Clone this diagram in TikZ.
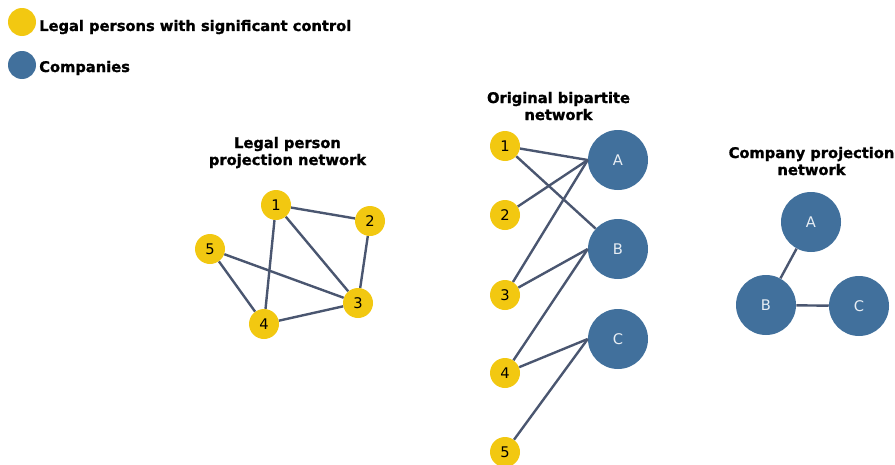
\documentclass[tikz,border=0pt]{standalone}
\usepackage{fontspec}
\setmainfont[BoldFeatures={FakeBold=1.2}]{DejaVu Sans}
\definecolor{ylw}{HTML}{F2C811}
\definecolor{blu}{HTML}{41709C}
\definecolor{edg}{HTML}{4A5670}
\definecolor{ltxt}{HTML}{E8EEF4}
\tikzset{
  pers/.style={circle,fill=ylw,draw=none,minimum size=22.5pt,inner sep=0pt,font=\fontsize{11}{13}\selectfont,text=black},
  comp/.style={circle,fill=blu,draw=none,minimum size=45pt,inner sep=0pt,font=\fontsize{11}{13}\selectfont,text=ltxt},
  legdot/.style={circle,draw=none,minimum size=21pt,inner sep=0pt},
  legtxt/.style={anchor=base west,inner sep=0pt,font=\fontsize{11}{13}\bfseries},
  ttl/.style={anchor=base,align=center,inner sep=0pt,font=\fontsize{11}{12.75}\selectfont\bfseries},
  lnk/.style={draw=edg,line width=1.8pt}
}
\begin{document}
\begin{tikzpicture}[x=0.75pt,y=-0.75pt]
\useasboundingbox (0,0) rectangle (895,464);
\clip (0,0) rectangle (895,464);
% legend
\node[legdot,fill=ylw] (ly) at (22,22) {};
\node[legtxt] (lyt) at (39,31) {Legal persons with significant control};
\node[legdot,fill=blu] (lb) at (22,65) {};
\node[legtxt] (lbt) at (39,72) {Companies};
% titles
\node[ttl] (t1) at (287.5,165) {Legal person\\projection network};
\node[ttl] (t2) at (558.5,120) {Original bipartite\\network};
\node[ttl] (t3) at (811.5,175) {Company projection\\network};
% left panel
\node[pers] (p1) at (276,205) {1};
\node[pers] (p2) at (370,221) {2};
\node[pers] (p3) at (358,303) {3};
\node[pers] (p4) at (264,324) {4};
\node[pers] (p5) at (210,249) {5};
\draw[lnk] (p1) -- (p2);
\draw[lnk] (p1) -- (p3);
\draw[lnk] (p1) -- (p4);
\draw[lnk] (p2) -- (p3);
\draw[lnk] (p3) -- (p4);
\draw[lnk] (p5) -- (p3);
\draw[lnk] (p5) -- (p4);
% bipartite
\node[pers] (b1) at (505,146) {1};
\node[pers] (b2) at (505,215) {2};
\node[pers] (b3) at (505,295) {3};
\node[pers] (b4) at (505,373) {4};
\node[pers] (b5) at (505,452) {5};
\node[comp] (bA) at (618,160) {A};
\node[comp] (bB) at (618,249) {B};
\node[comp] (bC) at (618,339) {C};
\draw[lnk] (b1) -- (bA.west);
\draw[lnk] (b1) -- (bB);
\draw[lnk] (b2) -- (bA.west);
\draw[lnk] (b3) -- (bA.west);
\draw[lnk] (b3) -- (bB.west);
\draw[lnk] (b4) -- (bB.west);
\draw[lnk] (b4) -- (bC.west);
\draw[lnk] (b5) -- (bC.west);
% company projection
\node[comp] (cA) at (811,222) {A};
\node[comp] (cB) at (766,305) {B};
\node[comp] (cC) at (859,306) {C};
\draw[lnk] (cA) -- (cB);
\draw[lnk] (cB) -- (cC);
\end{tikzpicture}
\end{document}
